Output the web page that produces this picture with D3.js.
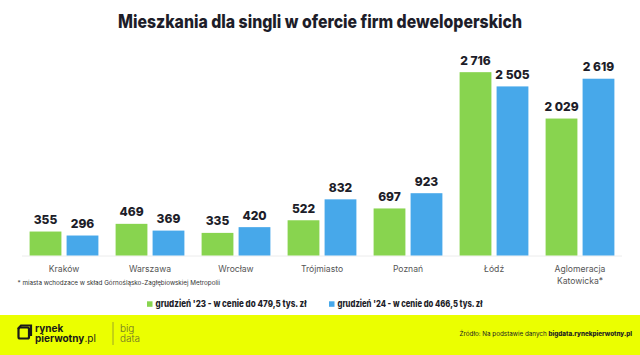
<!DOCTYPE html>
<html><head><meta charset="utf-8">
<script src="https://cdn.jsdelivr.net/npm/d3@7"></script>
<style>
html,body{margin:0;padding:0;background:#fff;}
svg{display:block;}
text{font-family:"Inter","Open Sans",sans-serif;}
</style></head>
<body>
<svg id="c" width="640" height="355"></svg>
<script>
const categories = ["Kraków","Warszawa","Wrocław","Trójmiasto","Poznań","Łódź","Aglomeracja\nKatowicka*"];
const series = ["grudzień '23 - w cenie do 479,5 tys. zł","grudzień '24 - w cenie do 466,5 tys. zł"];
const values23 = [355,469,335,522,697,2716,2029];
const values24 = [296,369,420,832,923,2505,2619];
const colors = ["#88d44f","#47a8ea"];
const fmt = v => d3.format(",")(v).replace(/,/g," ");

const svg = d3.select("#c");
svg.append("rect").attr("width",640).attr("height",355).attr("fill","#fff");

svg.append("text").attr("x",320).attr("y",28).attr("text-anchor","middle")
  .attr("font-size",18.5).attr("font-weight",800).attr("fill","#1d1d29")
  .attr("textLength",404).attr("lengthAdjust","spacingAndGlyphs")
  .text("Mieszkania dla singli w ofercie firm deweloperskich");

const x = d3.scaleBand().domain(categories).range([21,623]).paddingInner(0.2).paddingOuter(0.1);
const xs = d3.scaleBand().domain([0,1]).range([0,x.bandwidth()]).paddingInner(0.14);
const y = d3.scaleLinear().domain([0,3000]).range([255.5,53]);

svg.append("line").attr("x1",22).attr("x2",622).attr("y1",256).attr("y2",256)
  .attr("stroke","#ececec").attr("stroke-width",1);

const data = categories.map((c,i)=>({c, v:[values23[i],values24[i]]}));
const g = svg.selectAll("g.grp").data(data).join("g").attr("transform",d=>`translate(${x(d.c)},0)`);
g.selectAll("rect").data(d=>d.v.map((v,k)=>({v,k}))).join("rect")
  .attr("x",d=>xs(d.k)).attr("width",xs.bandwidth())
  .attr("y",d=>y(d.v)).attr("height",d=>y(0)-y(d.v)).attr("fill",d=>colors[d.k]);
g.selectAll("text.val").data(d=>d.v.map((v,k)=>({v,k}))).join("text").attr("class","val")
  .attr("x",d=>xs(d.k)+xs.bandwidth()/2).attr("y",d=>y(d.v)-7.5)
  .attr("text-anchor","middle").attr("font-size",12).attr("font-weight",800).attr("fill","#1d1d29")
  .text(d=>fmt(d.v));

const xAxis = d3.axisBottom(x).tickSize(0).tickPadding(0);
const ax = svg.append("g").attr("transform","translate(0,262)").call(xAxis);
ax.select(".domain").remove();
ax.selectAll(".tick text").each(function(d){
  const t = d3.select(this); t.text(null).attr("y",0).attr("dy",null)
    .attr("font-size",8.6).attr("fill","#555").attr("font-family","Inter,sans-serif");
  d.split("\n").forEach((s,i)=>t.append("tspan").attr("x",0).attr("y",10+i*11.5).text(s));
});

svg.append("text").attr("x",17.5).attr("y",284.5).attr("font-size",6.3).attr("fill","#333")
  .text("* miasta wchodzace w skład Górnośląsko-Zagłębiowskiej Metropolii");

const legX = [147,329];
series.forEach((s,i)=>{
  svg.append("rect").attr("x",legX[i]).attr("y",301.3).attr("width",5.5).attr("height",5.5).attr("fill",colors[i]);
  svg.append("text").attr("x",legX[i]+8.5).attr("y",307).attr("font-size",9.2).attr("font-weight",800)
    .attr("fill","#1d1d29").attr("textLength",i===0?151:145).attr("lengthAdjust","spacingAndGlyphs").text(s);
});

// footer
svg.append("rect").attr("x",0).attr("y",315).attr("width",640).attr("height",40).attr("fill","#ebff00");
svg.append("rect").attr("x",18.5).attr("y",327.5).attr("width",10.5).attr("height",11).attr("rx",1.5)
  .attr("fill","none").attr("stroke","#1a1a1a").attr("stroke-width",2.2);
svg.append("path").attr("d","M18 329 L21 325.5 L31 325.5 L31 336").attr("fill","none").attr("stroke","#1a1a1a").attr("stroke-width",2.2);
svg.append("text").attr("x",35).attr("y",331.5).attr("font-size",10).attr("font-weight",700).attr("fill","#1a1a1a").text("rynek");
const t2 = svg.append("text").attr("x",35).attr("y",342).attr("font-size",10).attr("fill","#1a1a1a");
t2.append("tspan").attr("font-weight",700).text("pierwotny");
t2.append("tspan").attr("font-weight",400).text(".pl");
svg.append("line").attr("x1",113).attr("x2",113).attr("y1",322).attr("y2",345).attr("stroke","#8a8f30").attr("stroke-width",0.8);
svg.append("text").attr("x",120).attr("y",331.5).attr("font-size",10).attr("font-weight",300).attr("fill","#6b6f2a").text("big");
svg.append("text").attr("x",120).attr("y",342).attr("font-size",10).attr("font-weight",300).attr("fill","#6b6f2a").text("data");
const src = svg.append("text").attr("x",632).attr("y",336).attr("text-anchor","end").attr("font-size",6.3).attr("fill","#222");
src.append("tspan").text("Źródło: Na podstawie danych ");
src.append("tspan").attr("font-weight",800).text("bigdata.rynekpierwotny.pl");
</script>
</body></html>
